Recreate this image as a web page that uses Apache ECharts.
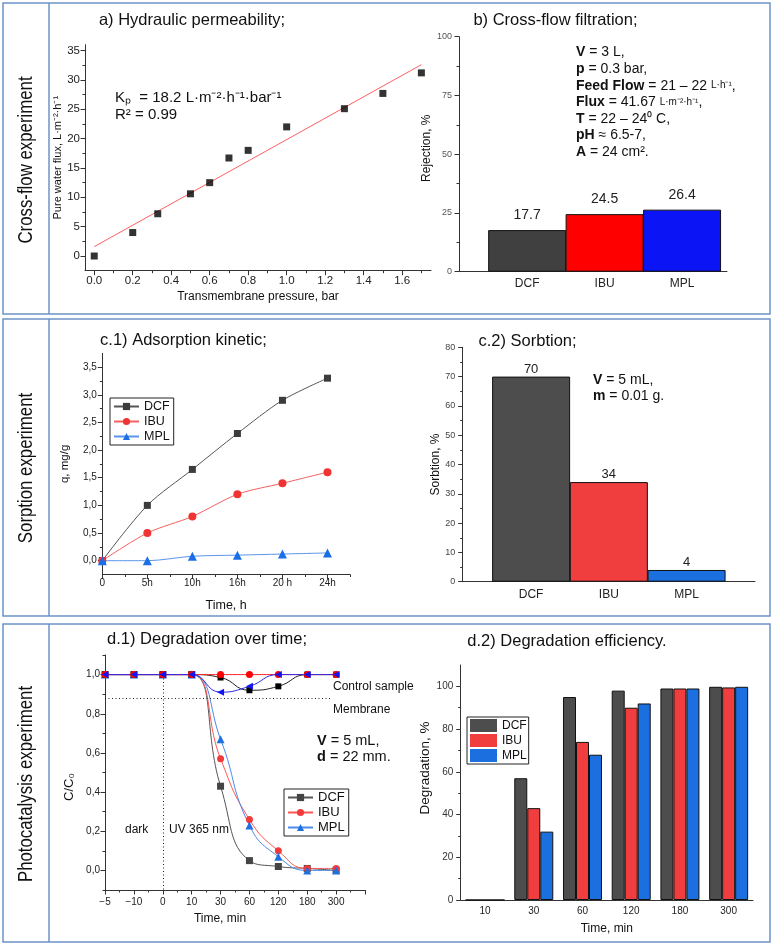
<!DOCTYPE html>
<html>
<head>
<meta charset="utf-8">
<script src="https://cdn.jsdelivr.net/npm/echarts@6/dist/echarts.min.js"></script>
<style>
  html, body { margin: 0; padding: 0; background: #fff; }
  #chart { width: 773px; height: 945px; }
</style>
</head>
<body>
<div id="chart"></div>
<script>
// ---- a) hydraulic permeability
const pressure = [0, 0.2, 0.33, 0.5, 0.6, 0.7, 0.8, 1.0, 1.3, 1.5, 1.7];
const waterFlux = [0, 4.0, 7.2, 10.6, 12.5, 16.7, 18.0, 22.0, 25.1, 27.7, 31.2];
const fitPressure = [0, 1.7];
const fitFlux = [1.6, 32.6];
const pressureTicks = [0, 0.2, 0.4, 0.6, 0.8, 1.0, 1.2, 1.4, 1.6];
const pressureMinor = [0.1, 0.3, 0.5, 0.7, 0.9, 1.1, 1.3, 1.5, 1.7];
const fluxTicks = [0, 5, 10, 15, 20, 25, 30, 35];
const fluxMinor = [2.5, 7.5, 12.5, 17.5, 22.5, 27.5, 32.5];

// ---- b) cross-flow filtration
const drugs = ['DCF', 'IBU', 'MPL'];
const rejection = [17.7, 24.5, 26.4];
const rejTicks = [0, 25, 50, 75, 100];
const rejMinor = [12.5, 37.5, 62.5, 87.5];

// ---- c.1) adsorption kinetic
const kinTimes = ['0', '5h', '10h', '16h', '20 h', '24h'];
const qDCF = [0, 1.0, 1.65, 2.3, 2.9, 3.3];
const qIBU = [0, 0.5, 0.8, 1.2, 1.4, 1.6];
const qMPL = [0, 0, 0.08, 0.1, 0.12, 0.14];
const qTicks = [0, 0.5, 1.0, 1.5, 2.0, 2.5, 3.0, 3.5];
const qMinor = [0.25, 0.75, 1.25, 1.75, 2.25, 2.75, 3.25];

// ---- c.2) sorption
const sorption = [70, 34, 4];
const sorbTicks = [0, 10, 20, 30, 40, 50, 60, 70, 80];
const sorbMinor = [5, 15, 25, 35, 45, 55, 65, 75];

// ---- d.1) degradation over time
const degTimes = ['−5', '−10', '0', '10', '30', '60', '120', '180', '300'];
const cDCF = [1, 1, 1, 1, 0.43, 0.05, 0.02, 0.01, 0.0];
const cIBU = [1, 1, 1, 1, 0.57, 0.26, 0.10, 0.01, 0.01];
const cMPL = [1, 1, 1, 1, 0.67, 0.23, 0.07, 0.0, 0.0];
const ctrlDCF = [1, 1, 1, 1, 0.985, 0.92, 0.94, 1.0, 1.0];
const ctrlIBU = [1, 1, 1, 1, 1, 1, 1, 1, 1];
const ctrlMPL = [1, 1, 1, 1, 0.91, 0.94, 1.0, 1.0, 1.0];
const membraneLevel = 0.88;
const membraneEnd = 7.8;
const darkEnd = 2;
const cTicks = [0, 0.2, 0.4, 0.6, 0.8, 1.0];
const cMinor = [-0.1, 0.1, 0.3, 0.5, 0.7, 0.9, 1.1];
const degTickPos = [0, 1, 2, 3, 4, 5, 6, 7, 8, 9];
const degMinor = [0.5, 1.5, 2.5, 3.5, 4.5, 5.5, 6.5, 7.5, 8.5];

// ---- d.2) degradation efficiency
const effTimes = ['10', '30', '60', '120', '180', '300'];
const effDCF = [0, 57, 95, 98, 99, 99.8];
const effIBU = [0, 43, 74, 90, 99, 99.5];
const effMPL = [0, 32, 68, 92, 99, 99.8];
const effTicks = [0, 20, 40, 60, 80, 100];
const effMinor = [10, 30, 50, 70, 90];

const FONT = '"Liberation Sans", Arial, sans-serif';
const AX = '#333';
const FRAME = '#6b93c8';
const bColors = ['#404040', '#ff0000', '#0a14f5'];
const cColors = ['#4d4d4d', '#f03e3e', '#1b6fdf'];

const xAxes = [], yAxes = [];

function addAxis(list, dim, grid, cfg) {
  const pos = dim === 'x' ? 'bottom' : 'left';
  list.push({
    type: 'value', gridIndex: grid, min: cfg.min, max: cfg.max, position: pos,
    axisLine: { show: true, onZero: false, lineStyle: { color: AX, width: 1 } },
    axisTick: cfg.major ? { show: true, customValues: cfg.major, length: 4.5, lineStyle: { color: AX } } : { show: false },
    axisLabel: {
      customValues: cfg.labels || cfg.major, formatter: cfg.fmt, fontSize: cfg.fs,
      color: cfg.lc || '#222', margin: cfg.margin, fontFamily: FONT
    },
    splitLine: { show: false },
    name: cfg.name, nameLocation: 'middle', nameGap: cfg.gap,
    nameTextStyle: { fontSize: cfg.nfs, color: '#111', fontFamily: FONT, padding: cfg.npad || 0 }
  });
  const idx = list.length - 1;
  if (cfg.minor) {
    list.push({
      type: 'value', gridIndex: grid, min: cfg.min, max: cfg.max, position: pos,
      axisLine: { show: false, onZero: false },
      axisTick: { show: true, customValues: cfg.minor, length: 2.5, lineStyle: { color: AX } },
      axisLabel: { show: false }, splitLine: { show: false }
    });
  }
  return idx;
}

const comma = v => v.toFixed(1).replace('.', ',');

// grid 0 : a
const ax0 = addAxis(xAxes, 'x', 0, { min: -0.048, max: 1.75, major: pressureTicks, minor: pressureMinor,
  fmt: v => v.toFixed(1), fs: 11.5, margin: 4, name: 'Transmembrane pressure, bar', gap: 20, nfs: 12 });
const ay0 = addAxis(yAxes, 'y', 0, { min: -2.5, max: 36, major: fluxTicks, minor: fluxMinor,
  fmt: v => String(v), fs: 11.5, margin: 5, name: 'Pure water flux, L·m⁻²·h⁻¹', gap: 20, nfs: 11 });
// grid 1 : b
const ax1 = addAxis(xAxes, 'x', 1, { min: 0.12, max: 3.58, labels: [1, 2, 3],
  fmt: v => drugs[v - 1], fs: 12, margin: 6 });
const ay1 = addAxis(yAxes, 'y', 1, { min: 0, max: 100, major: rejTicks, minor: rejMinor,
  fmt: v => String(v), fs: 9, lc: '#555', margin: 7, name: 'Rejection, %', gap: 21, nfs: 12, npad: [0, 0, 0, 12] });
// grid 2 : c.1
const ax2 = addAxis(xAxes, 'x', 2, { min: 0, max: 5.5, major: [0, 1, 2, 3, 4, 5], minor: [0.5, 1.5, 2.5, 3.5, 4.5, 5.5],
  fmt: v => kinTimes[v], fs: 10, margin: 4, name: 'Time, h', gap: 25, nfs: 12.5 });
const ay2 = addAxis(yAxes, 'y', 2, { min: -0.25, max: 3.75, major: qTicks, minor: qMinor,
  fmt: comma, fs: 10, margin: 5.5, name: 'q, mg/g', gap: 31, nfs: 11.5 });
// grid 3 : c.2
const ax3 = addAxis(xAxes, 'x', 3, { min: 0.12, max: 3.88, labels: [1, 2, 3],
  fmt: v => drugs[v - 1], fs: 12, margin: 7 });
const ay3 = addAxis(yAxes, 'y', 3, { min: 0, max: 80, major: sorbTicks, minor: sorbMinor,
  fmt: v => String(v), fs: 9, lc: '#444', margin: 7.5, name: 'Sorbtion, %', gap: 21.5, nfs: 12 });
// grid 4 : d.1
const ax4 = addAxis(xAxes, 'x', 4, { min: 0, max: 9, major: degTickPos, minor: degMinor,
  labels: [0, 1, 2, 3, 4, 5, 6, 7, 8], fmt: v => degTimes[v], fs: 10, margin: 7.5,
  name: 'Time, min', gap: 23, nfs: 12, npad: [0, 30, 0, 0] });
const ay4 = addAxis(yAxes, 'y', 4, { min: -0.1, max: 1.1, major: cTicks, minor: cMinor,
  fmt: comma, fs: 10, margin: 5, name: 'C/C₀', gap: 29.5, nfs: 13, npad: [0, 29, 0, 0] });
// grid 5 : d.2
xAxes.push({
  type: 'category', gridIndex: 5, data: effTimes, position: 'bottom',
  axisLine: { onZero: false, lineStyle: { color: AX, width: 1 } },
  axisTick: { length: 4, lineStyle: { color: AX } },
  axisLabel: { fontSize: 10, color: '#222', margin: 6.5, fontFamily: FONT },
  name: 'Time, min', nameLocation: 'middle', nameGap: 23,
  nameTextStyle: { fontSize: 12, color: '#111', fontFamily: FONT }
});
const ax5 = xAxes.length - 1;
const ay5 = addAxis(yAxes, 'y', 5, { min: 0, max: 110, major: effTicks, minor: effMinor,
  fmt: v => String(v), fs: 10, lc: '#333', margin: 7.4, name: 'Degradation, %', gap: 25.7, nfs: 13.5, npad: [0, 0, 0, 29] });

const pairs = (xs, ys) => ys.map((v, i) => [xs[i], v]);
const indexed = ys => ys.map((v, i) => [i, v]);

const dots = { type: [1, 2.5], color: '#222', width: 1 };

const series = [
  // a
  { name: 'fit', type: 'line', xAxisIndex: ax0, yAxisIndex: ay0, data: pairs(fitPressure, fitFlux),
    symbol: 'none', lineStyle: { color: '#ff6060', width: 1 }, z: 1 },
  { name: 'flux', type: 'scatter', xAxisIndex: ax0, yAxisIndex: ay0, data: pairs(pressure, waterFlux),
    symbol: 'rect', symbolSize: 7, itemStyle: { color: '#000' }, z: 3 },
  // b
  { name: 'rejection', type: 'bar', xAxisIndex: ax1, yAxisIndex: ay1, barWidth: 78,
    data: rejection.map((v, i) => ({ value: [i + 1, v], itemStyle: { color: bColors[i] } })),
    itemStyle: { borderColor: '#111', borderWidth: 1 },
    label: { show: true, position: 'top', distance: 8, fontSize: 14, color: '#222', fontFamily: FONT,
      formatter: p => String(p.value[1]) } },
  // c.1
  { name: 'c1-DCF', type: 'line', xAxisIndex: ax2, yAxisIndex: ay2, data: indexed(qDCF), smooth: 0.3,
    symbol: 'rect', symbolSize: 7, itemStyle: { color: '#3c3c3c' }, lineStyle: { color: '#555', width: 1 } },
  { name: 'c1-IBU', type: 'line', xAxisIndex: ax2, yAxisIndex: ay2, data: indexed(qIBU), smooth: 0.3,
    symbol: 'circle', symbolSize: 8, itemStyle: { color: '#f03434' }, lineStyle: { color: '#f56060', width: 1 } },
  { name: 'c1-MPL', type: 'line', xAxisIndex: ax2, yAxisIndex: ay2, data: indexed(qMPL), smooth: 0.3,
    symbol: 'triangle', symbolSize: 9, itemStyle: { color: '#1a6fe6' }, lineStyle: { color: '#5a95ec', width: 1 } },
  // c.2
  { name: 'sorption', type: 'bar', xAxisIndex: ax3, yAxisIndex: ay3, barWidth: 78,
    data: sorption.map((v, i) => ({ value: [i + 1, v], itemStyle: { color: cColors[i] } })),
    itemStyle: { borderColor: '#111', borderWidth: 1 },
    label: { show: true, position: 'top', distance: 1, fontSize: 13, color: '#222', fontFamily: FONT,
      formatter: p => String(p.value[1]) } },
  // d.1 main
  { name: 'd1-DCF', type: 'line', xAxisIndex: ax4, yAxisIndex: ay4, data: indexed(cDCF), smooth: 0.5,
    symbol: 'rect', symbolSize: 7, itemStyle: { color: '#444' }, lineStyle: { color: '#555', width: 1 },
    markLine: { silent: true, symbol: 'none', animation: false, label: { show: false },
      lineStyle: dots, emphasis: { disabled: true },
      data: [
        [{ coord: [0, membraneLevel], lineStyle: dots }, { coord: [membraneEnd, membraneLevel] }],
        [{ coord: [darkEnd, 0.98], lineStyle: dots }, { coord: [darkEnd, -0.1] }]
      ] } },
  { name: 'd1-IBU', type: 'line', xAxisIndex: ax4, yAxisIndex: ay4, data: indexed(cIBU), smooth: 0.5,
    symbol: 'circle', symbolSize: 7, itemStyle: { color: '#f33a3a' }, lineStyle: { color: '#f55', width: 1 } },
  { name: 'd1-MPL', type: 'line', xAxisIndex: ax4, yAxisIndex: ay4, data: indexed(cMPL), smooth: 0.5,
    symbol: 'triangle', symbolSize: 8, itemStyle: { color: '#2070e0' }, lineStyle: { color: '#4a8ae8', width: 1 } },
  // d.1 control samples
  { name: 'ctrl-DCF', type: 'line', xAxisIndex: ax4, yAxisIndex: ay4, data: indexed(ctrlDCF), smooth: 0.5,
    symbol: 'rect', symbolSize: 6, itemStyle: { color: '#000' }, lineStyle: { color: '#222', width: 1 } },
  { name: 'ctrl-IBU', type: 'line', xAxisIndex: ax4, yAxisIndex: ay4, data: indexed(ctrlIBU), smooth: 0.5,
    symbol: 'circle', symbolSize: 7, itemStyle: { color: '#ff0000' }, lineStyle: { color: '#ff2020', width: 1 } },
  { name: 'ctrl-MPL', type: 'line', xAxisIndex: ax4, yAxisIndex: ay4, data: indexed(ctrlMPL), smooth: 0.5,
    symbol: 'triangle', symbolRotate: 90, symbolSize: 7, itemStyle: { color: '#1414f0' }, lineStyle: { color: '#2a2af0', width: 1 } },
  // d.2
  { name: 'd2-DCF', type: 'bar', xAxisIndex: ax5, yAxisIndex: ay5, data: effDCF, barWidth: 13, barGap: '0%',
    itemStyle: { color: cColors[0], borderColor: '#111', borderWidth: 1 } },
  { name: 'd2-IBU', type: 'bar', xAxisIndex: ax5, yAxisIndex: ay5, data: effIBU, barWidth: 13, barGap: '0%',
    itemStyle: { color: cColors[1], borderColor: '#111', borderWidth: 1 } },
  { name: 'd2-MPL', type: 'bar', xAxisIndex: ax5, yAxisIndex: ay5, data: effMPL, barWidth: 13, barGap: '0%',
    itemStyle: { color: cColors[2], borderColor: '#111', borderWidth: 1 } }
];

const legendBase = {
  orient: 'vertical', borderColor: '#222', borderWidth: 1, borderRadius: 0,
  itemGap: 2, selectedMode: false,
  textStyle: { color: '#111', fontFamily: FONT },
  formatter: n => n.split('-')[1]
};

const legends = [
  Object.assign({}, legendBase, { left: 110, top: 398, padding: [2, 4, 2, 3], itemWidth: 25, itemHeight: 9,
    textStyle: { fontSize: 12.5, color: '#111', fontFamily: FONT }, data: ['c1-DCF', 'c1-IBU', 'c1-MPL'] }),
  Object.assign({}, legendBase, { left: 284, top: 789, padding: [2, 4, 2, 3], itemWidth: 25, itemHeight: 9,
    textStyle: { fontSize: 13, color: '#111', fontFamily: FONT }, data: ['d1-DCF', 'd1-IBU', 'd1-MPL'] }),
  Object.assign({}, legendBase, { left: 467, top: 717, padding: [2, 2, 2, 3], itemWidth: 27, itemHeight: 13,
    icon: 'rect', itemStyle: { borderWidth: 0 },
    textStyle: { fontSize: 12, color: '#111', fontFamily: FONT }, data: ['d2-DCF', 'd2-IBU', 'd2-MPL'] })
];

// ---- free text and frames
const graphics = [];
function txt(x, y, text, o) {
  o = o || {};
  graphics.push({
    type: 'text', x: x, y: y, rotation: o.rot || 0, scaleX: o.sx || 1, silent: true,
    style: {
      text: text, fill: o.color || '#111', font: (o.weight || 'normal') + ' ' + (o.size || 14) + 'px ' + (o.family || FONT),
      textAlign: o.align || 'left', textVerticalAlign: 'middle',
      rich: {
        b: { fontWeight: 'bold', fontSize: o.size || 14, fontFamily: FONT, fill: '#111' },
        s: { fontSize: 10, fontFamily: FONT, fill: '#111' }
      }
    }
  });
}

[[3, 311], [319, 297], [624, 318]].forEach(([y, h]) => {
  graphics.push({ type: 'rect', silent: true, shape: { x: 3, y: y, width: 767, height: h },
    style: { fill: 'none', stroke: FRAME, lineWidth: 1.5 } });
  graphics.push({ type: 'line', silent: true, shape: { x1: 49, y1: y, x2: 49, y2: y + h },
    style: { stroke: FRAME, lineWidth: 1.5 } });
});

const rowLabels = ['Cross-flow experiment', 'Sorption experiment', 'Photocatalysis experiment'];
[160, 468, 784].forEach((y, i) => txt(26, y, rowLabels[i],
  { rot: Math.PI / 2, align: 'center', size: 21, sx: 0.8 }));

txt(192, 20, 'a) Hydraulic permeability;', { align: 'center', size: 16.5 });
txt(555.5, 20, 'b) Cross-flow filtration;', { align: 'center', size: 16.5 });
txt(183.5, 340.5, 'c.1) Adsorption kinetic;', { align: 'center', size: 16.5 });
txt(527.5, 341, 'c.2) Sorbtion;', { align: 'center', size: 16.5 });
txt(207, 639, 'd.1) Degradation over time;', { align: 'center', size: 16.5 });
txt(567, 641.5, 'd.2) Degradation efficiency.', { align: 'center', size: 16.5 });

txt(115, 98, 'Kₚ  = 18.2 L·m⁻²·h⁻¹·bar⁻¹', { size: 15 });
txt(115, 115, 'R² = 0.99', { size: 15 });

const bNotes = [
  '{b|V} = 3 L,',
  '{b|p} = 0.3 bar,',
  '{b|Feed Flow} = 21 – 22 {s|L·h⁻¹},',
  '{b|Flux} = 41.67 {s|L·m⁻²·h⁻¹},',
  '{b|T} = 22 – 24⁰ C,',
  '{b|pH} ≈ 6.5-7,',
  '{b|A} = 24 cm².'
];
bNotes.forEach((t, i) => txt(576, 52.5 + i * 16.6, t, { size: 14 }));

txt(593, 380, '{b|V} = 5 mL,', { size: 14 });
txt(593, 396, '{b|m} = 0.01 g.', { size: 14 });

txt(333, 687, 'Control sample', { size: 12 });
txt(333, 709.5, 'Membrane', { size: 12 });
txt(317, 740.5, '{b|V} = 5 mL,', { size: 14.5 });
txt(317, 756.5, '{b|d} = 22 mm.', { size: 14.5 });
txt(125, 830, 'dark', { size: 12 });
txt(169, 830, 'UV 365 nm', { size: 12 });

const chart = echarts.init(document.getElementById('chart'), null, { renderer: 'canvas' });
chart.setOption({
  animation: false,
  backgroundColor: '#fff',
  textStyle: { fontFamily: FONT },
  grid: [
    { left: 85, top: 44.7, width: 346, height: 226 },
    { left: 459, top: 36.7, width: 268, height: 235 },
    { left: 102.3, top: 353.3, width: 247.7, height: 221.2 },
    { left: 462.7, top: 347.3, width: 292.3, height: 234.4 },
    { left: 105, top: 655, width: 260, height: 235 },
    { left: 460.7, top: 665, width: 292.3, height: 235 }
  ],
  xAxis: xAxes,
  yAxis: yAxes,
  legend: legends,
  series: series,
  graphic: graphics
});
</script>
</body>
</html>
